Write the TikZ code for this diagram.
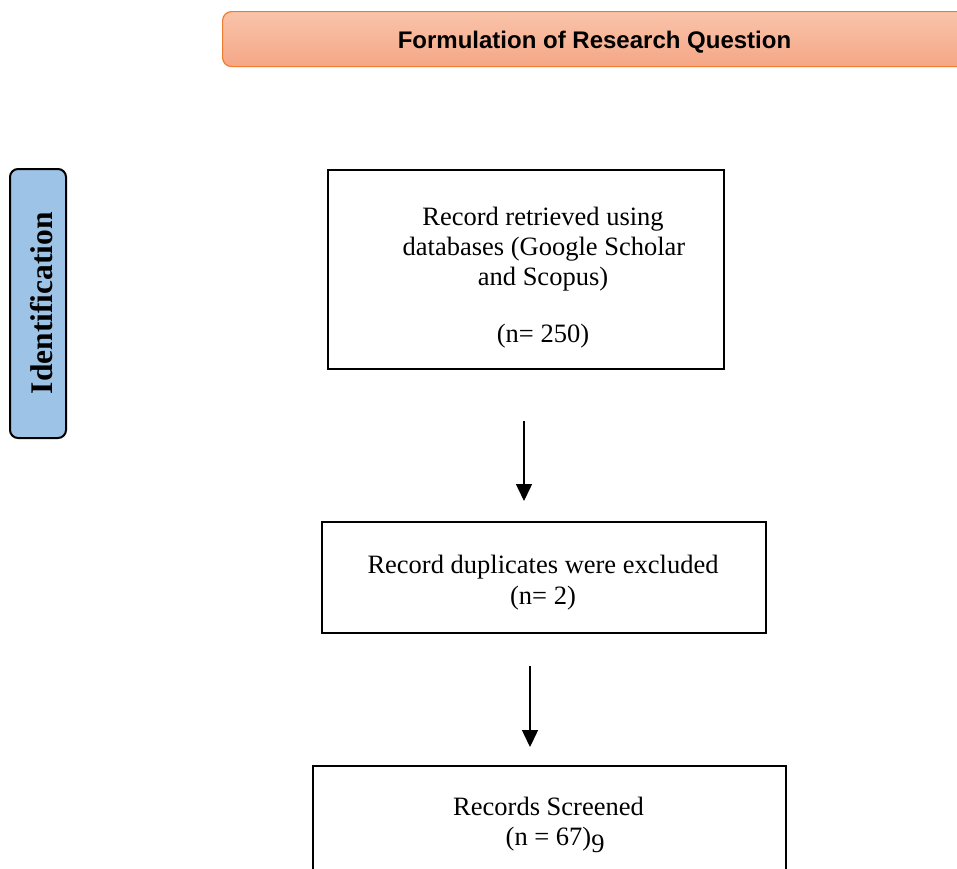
\documentclass[tikz,border=0pt]{standalone}
\usepackage{fontspec}
\setmainfont{Liberation Serif}
\newfontfamily\titlefont{Liberation Sans}
\usetikzlibrary{arrows.meta}
\definecolor{titletop}{RGB}{249,196,170}
\definecolor{titlebot}{RGB}{245,166,134}
\definecolor{titleedge}{RGB}{237,125,49}
\definecolor{idblue}{RGB}{157,195,230}
\tikzset{
  flowbox/.style={draw=black, line width=2pt, fill=white, inner sep=0pt},
  bodytext/.style={inner sep=0pt, anchor=base, font=\fontsize{26.5}{30.5}\selectfont},
  flowarrow/.style={line width=1.5pt, -{Triangle[length=17pt,width=16pt]}},
}
\begin{document}
\begin{tikzpicture}[x=1pt,y=-1pt]
\useasboundingbox (0,0) rectangle (957,868);
\clip (0,0) rectangle (957,868);
\fill[white] (0,0) rectangle (957,868);

% title banner
\node[draw=titleedge, line width=1.2pt, rounded corners=9pt,
      top color=titletop, bottom color=titlebot,
      minimum width=748pt, minimum height=55pt, anchor=north west, inner sep=0pt]
      (title) at (222,11) {};
\node[inner sep=0pt, anchor=base, font=\titlefont\bfseries\fontsize{24}{28}\selectfont]
      (titletext) at (594.5,48) {Formulation of Research Question};

% identification side label
\node[draw=black, line width=2pt, rounded corners=8pt, fill=idblue,
      minimum width=56pt, minimum height=269pt, anchor=north west, inner sep=0pt]
      (ident) at (9,168) {};
\node[inner sep=0pt, anchor=base, rotate=90, font=\bfseries\fontsize{31.5}{34}\selectfont]
      (identtext) at (52,303) {Identification};

% box 1
\node[flowbox, minimum width=396pt, minimum height=199pt, anchor=north west]
      (b1) at (327,169) {};
\node[bodytext] (b1l1) at (543,225) {Record retrieved using};
\node[bodytext] (b1l2) at (544,255) {databases (Google Scholar};
\node[bodytext] (b1l3) at (543,285) {and Scopus)};
\node[bodytext] (b1l4) at (543,342) {(n= 250)};

% arrow 1
\coordinate (a1s) at (524,421);
\coordinate (a1e) at (524,501);
\draw[flowarrow] (a1s) -- (a1e);

% box 2
\node[flowbox, minimum width=444pt, minimum height=111pt, anchor=north west]
      (b2) at (321,521) {};
\node[bodytext] (b2l1) at (543,573) {Record duplicates were excluded};
\node[bodytext] (b2l2) at (543,604) {(n= 2)};

% arrow 2
\coordinate (a2s) at (530,666);
\coordinate (a2e) at (530,747);
\draw[flowarrow] (a2s) -- (a2e);

% box 3
\node[flowbox, minimum width=473pt, minimum height=140pt, anchor=north west]
      (b3) at (312,765) {};
\node[bodytext] (b3l1) at (548.5,815) {Records Screened};
\node[bodytext] (b3l2) at (548.5,845) {(n = 67)\rlap{\raisebox{-7pt}{9}}};
\end{tikzpicture}
\end{document}
